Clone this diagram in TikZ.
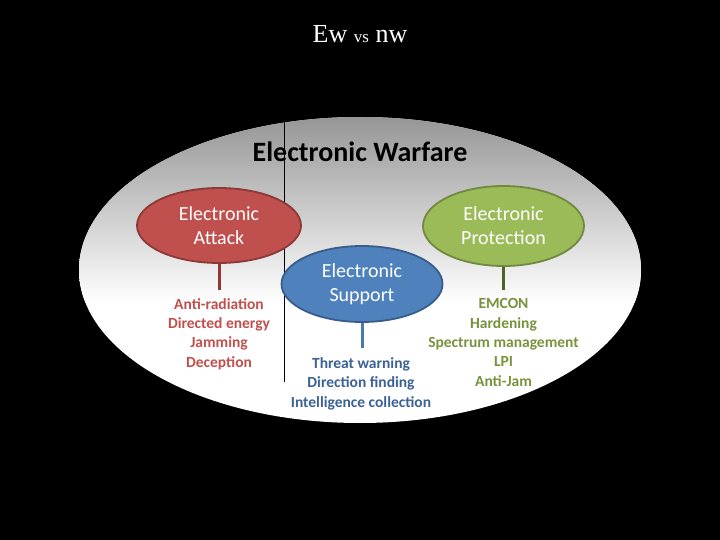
\documentclass[tikz,border=0pt]{standalone}
\usepackage{fontspec}
\setmainfont{Carlito}
\newfontfamily\titlefont{Liberation Serif}
\usetikzlibrary{shapes.geometric}
\definecolor{eared}{HTML}{C0504D}
\definecolor{earedline}{HTML}{8C3836}
\definecolor{esblue}{HTML}{4F81BD}
\definecolor{esblueline}{HTML}{385D8A}
\definecolor{epgreen}{HTML}{9BBB59}
\definecolor{epgreenline}{HTML}{71893F}
\definecolor{redtext}{HTML}{C0504D}
\definecolor{bluetext}{HTML}{3B6297}
\definecolor{greentext}{HTML}{77933C}
\definecolor{redstub}{HTML}{943634}
\definecolor{bluestub}{HTML}{4A7AB5}
\definecolor{greenstub}{HTML}{4F6228}
\definecolor{ewtop}{HTML}{969696}
\begin{document}
\begin{tikzpicture}[x=1pt,y=1pt,
  cat/.style={ellipse, draw, line width=1.8pt, inner sep=0pt, text=white, align=center, font=\fontsize{20}{24}\selectfont},
  stub/.style={line width=3pt},
  items/.style={anchor=base, align=center, inner sep=0pt, font=\fontsize{15.5}{19.3}\selectfont\bfseries}]
\useasboundingbox (0,0) rectangle (720,-540);
\fill[black] (0,0) rectangle (720,-540);
% title
\node[text=white, anchor=base, inner sep=0pt] (ewnw) at (360,-43) {\titlefont\fontsize{26}{30}\selectfont Ew {\fontsize{17}{20}\selectfont vs} nw};
% big ellipse with vertical gradient
\node[ellipse, minimum width=562pt, minimum height=306pt, inner sep=0pt] (ew) at (360,-270) {};
\begin{scope}
  \clip (360,-270) ellipse [x radius=281, y radius=153];
  \fill[white] (70,-110) rectangle (650,-430);
  \shade[top color=ewtop, bottom color=white] (70,-117) rectangle (650,-302);
\end{scope}
\coordinate (ltop) at (284,-122);
\coordinate (lbot) at (284,-382);
\draw[black, line width=0.9pt] (ltop) -- (lbot);
\node[anchor=base, inner sep=0pt, font=\fontsize{28}{33}\selectfont\bfseries] (ewlabel) at (360,-162) {Electronic Warfare};
% categories
\node[cat, fill=eared, draw=earedline, minimum width=164pt, minimum height=75pt] (ea) at (219,-225.5) {Electronic\\Attack};
\node[cat, fill=epgreen, draw=epgreenline, minimum width=161pt, minimum height=80pt] (ep) at (503.5,-226) {Electronic\\Protection};
\node[cat, fill=esblue, draw=esblueline, minimum width=161pt, minimum height=76pt] (es) at (362,-284) {Electronic\\Support};
% stubs
\coordinate (eaend) at (219,-290);
\coordinate (epend) at (503.5,-290);
\coordinate (esend) at (362,-348);
\draw[stub, redstub] (ea.south) -- (eaend);
\draw[stub, greenstub] (ep.south) -- (epend);
\draw[stub, bluestub] (es.south) -- (esend);
% lists (anchor = baseline of last line)
\node[items, text=redtext] (ealist) at (219,-367) {Anti-radiation\\Directed energy\\Jamming\\Deception};
\node[items, text=greentext] (eplist) at (503.5,-386) {EMCON\\Hardening\\Spectrum management\\LPI\\Anti-Jam};
\node[items, text=bluetext, font=\fontsize{15.5}{19.5}\selectfont\bfseries] (eslist) at (361,-407) {Threat warning\\Direction finding\\Intelligence collection};
\end{tikzpicture}
\end{document}
